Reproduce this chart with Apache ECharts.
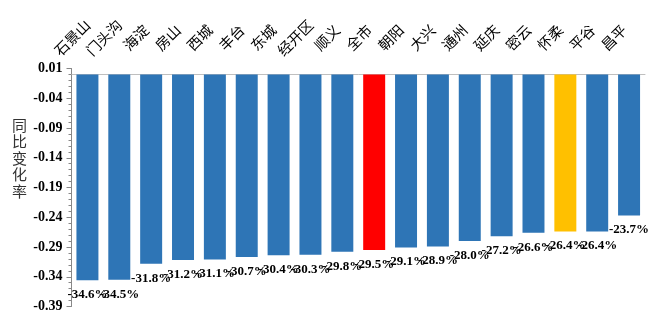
<!DOCTYPE html>
<html>
<head>
<meta charset="utf-8">
<script src="https://cdn.jsdelivr.net/npm/echarts@6/dist/echarts.min.js"></script>
<style>html,body{margin:0;padding:0;background:#fff}#c{width:666px;height:322px}</style>
</head>
<body>
<div id="c"></div>
<script>
const categories = ['石景山','门头沟','海淀','房山','西城','丰台','东城','经开区','顺义','全市','朝阳','大兴','通州','延庆','密云','怀柔','平谷','昌平'];
const values = [-0.346,-0.345,-0.318,-0.312,-0.311,-0.307,-0.304,-0.303,-0.298,-0.295,-0.291,-0.289,-0.280,-0.272,-0.266,-0.264,-0.264,-0.237];
const highlight = {'全市':'#FF0000','怀柔':'#FFC000'};
const baseColor = '#2E75B6';
const yMin = -0.39, yMax = 0.01, yInterval = 0.05;
const yName = '同比变化率';

const chart = echarts.init(document.getElementById('c'), null, {renderer:'canvas'});
chart.setOption({
  animation:false,
  grid:{left:71.5, right:21, top:68.5, bottom:15.5, containLabel:false},
  graphic:[{
    type:'text', left:12, top:117,
    style:{text:yName.split('').join('\n'), fontFamily:'Noto Sans CJK SC', fontSize:15, lineHeight:16.5, fill:'#333'}
  }],
  xAxis:{
    type:'category', position:'top', data:categories,
    axisLine:{onZero:true, lineStyle:{color:'#bfbfbf', width:1}},
    axisTick:{inside:true, length:5, lineStyle:{color:'#bfbfbf'}},
    axisLabel:{interval:0, rotate:45, margin:46, align:'center', verticalAlign:'middle',
      padding:[0,43,29,0],
      fontFamily:'Noto Sans CJK SC', fontSize:14.5, color:'#000'}
  },
  yAxis:{
    type:'value', min:yMin, max:yMax, interval:yInterval,
    axisLine:{show:true, lineStyle:{color:'#888'}},
    axisTick:{show:true, length:5, lineStyle:{color:'#888'}},
    minorTick:{show:true, splitNumber:5, length:3, lineStyle:{color:'#888'}},
    splitLine:{show:false},
    axisLabel:{margin:9, fontFamily:'Liberation Serif', fontWeight:'bold', fontSize:14, color:'#000',
      formatter:v=>v.toFixed(2)}
  },
  series:[{
    type:'bar', barWidth:'69%',
    data:values.map((v,i)=>({value:v, itemStyle:{color:highlight[categories[i]]||baseColor}})),
    label:{show:true, position:'bottom', distance:8, fontFamily:'Liberation Serif', fontWeight:'bold', fontSize:13, color:'#000',
      formatter:p=>(p.value*100).toFixed(1)+'%'}
  }]
});
</script>
</body>
</html>
